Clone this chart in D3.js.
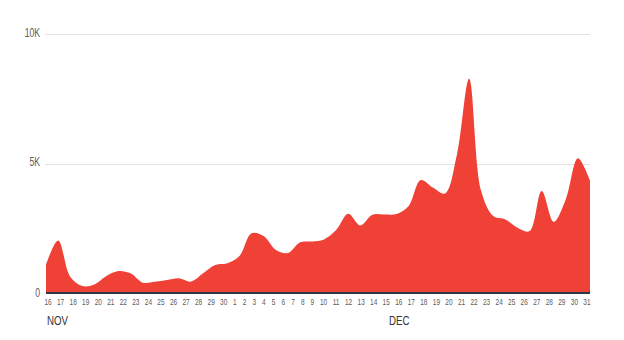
<!DOCTYPE html>
<html>
<head>
<meta charset="utf-8">
<script src="https://cdn.jsdelivr.net/npm/d3@7"></script>
<style>
  html, body { margin: 0; padding: 0; background: #fff; }
  svg { display: block; }
  text { font-family: "Liberation Sans", Arial, sans-serif; }
</style>
</head>
<body>
<svg id="chart" width="624" height="340"></svg>
<script>
// Daily counts, 16 Nov – 31 Dec
const startDay = new Date(2013, 10, 16);
const endDay = new Date(2013, 11, 31);
const dayLabels = ["16","17","18","19","20","21","22","23","24","25","26","27","28","29","30",
  "1","2","3","4","5","6","7","8","9","10","11","12","13","14","15","16","17","18","19","20",
  "21","22","23","24","25","26","27","28","29","30","31"];
const counts = [1090, 2030, 630, 270, 330, 660, 850, 760, 400, 430, 500, 570, 440, 760, 1080,
  1150, 1430, 2310, 2200, 1670, 1540, 1950, 1990, 2070, 2430, 3060, 2610, 3020, 3030, 3050,
  3360, 4360, 4070, 3840, 5360, 8270, 3940, 2970, 2840, 2520, 2390, 3940, 2750, 3620, 5200, 4330];
const monthLabels = ["NOV", "DEC"];
const yTickValues = [0, 5000, 10000];
const yTickLabels = ["0", "5K", "10K"];

const days = d3.timeDay.range(startDay, d3.timeDay.offset(endDay, 1));
const data = days.map((d, i) => ({ date: d, value: counts[i] }));

const plotLeft = 46, plotRight = 590, plotTop = 34, plotBottom = 293;
const svg = d3.select("#chart");

const x = d3.scaleTime().domain([startDay, endDay]).range([plotLeft, plotRight]);
const y = d3.scaleLinear().domain([0, 10000]).range([plotBottom, plotTop]);

const condense = 0.72;

// horizontal gridlines
svg.append("g")
  .selectAll("line")
  .data(yTickValues.filter(v => v > 0))
  .join("line")
  .attr("x1", plotLeft - 1).attr("x2", plotRight)
  .attr("y1", d => Math.round(y(d)) + 0.5).attr("y2", d => Math.round(y(d)) + 0.5)
  .attr("stroke", "#e2e2e2").attr("stroke-width", 1);

// y labels
svg.append("g")
  .selectAll("text")
  .data(yTickValues)
  .join("text")
  .attr("transform", d => `translate(${40},${y(d) + (d === 0 ? 1 : -0.5)}) scale(${condense},1)`)
  .attr("text-anchor", "end")
  .attr("dominant-baseline", "middle")
  .attr("font-size", 12)
  .attr("fill", "#5a5a5a")
  .text((d, i) => yTickLabels[i]);

// filled area
const area = d3.area()
  .x(d => x(d.date))
  .y0(plotBottom)
  .y1(d => y(d.value))
  .curve(d3.curveCatmullRom.alpha(0.5));

svg.append("path")
  .datum(data)
  .attr("d", area)
  .attr("fill", "#ef4136");

// baseline
svg.append("line")
  .attr("x1", plotLeft).attr("x2", plotRight)
  .attr("y1", plotBottom).attr("y2", plotBottom)
  .attr("stroke", "#2b3a44").attr("stroke-width", 2.2);

// day labels laid out edge to edge, evenly gapped
const slotPerChar = 2.85;
const widths = dayLabels.map(s => s.length * slotPerChar);
const spanL = plotLeft - 0.8, spanR = plotRight - 0.2;
const gap = (spanR - spanL - d3.sum(widths)) / (dayLabels.length - 1);
let cursor = spanL;
const centers = widths.map(w => { const c = cursor + w / 2; cursor += w + gap; return c; });

svg.append("g")
  .selectAll("text")
  .data(dayLabels)
  .join("text")
  .attr("transform", (d, i) => `translate(${centers[i]},${303}) scale(${condense},1)`)
  .attr("text-anchor", "middle")
  .attr("dominant-baseline", "middle")
  .attr("font-size", 9)
  .attr("fill", "#5a5a5a")
  .text(d => d);

// month labels
const monthX = [plotLeft + 1, 389];
svg.append("g")
  .selectAll("text")
  .data(monthLabels)
  .join("text")
  .attr("transform", (d, i) => `translate(${monthX[i]},${321}) scale(${condense},1)`)
  .attr("text-anchor", "start")
  .attr("dominant-baseline", "middle")
  .attr("font-size", 13.5)
  .attr("fill", "#333")
  .text(d => d);
</script>
</body>
</html>
